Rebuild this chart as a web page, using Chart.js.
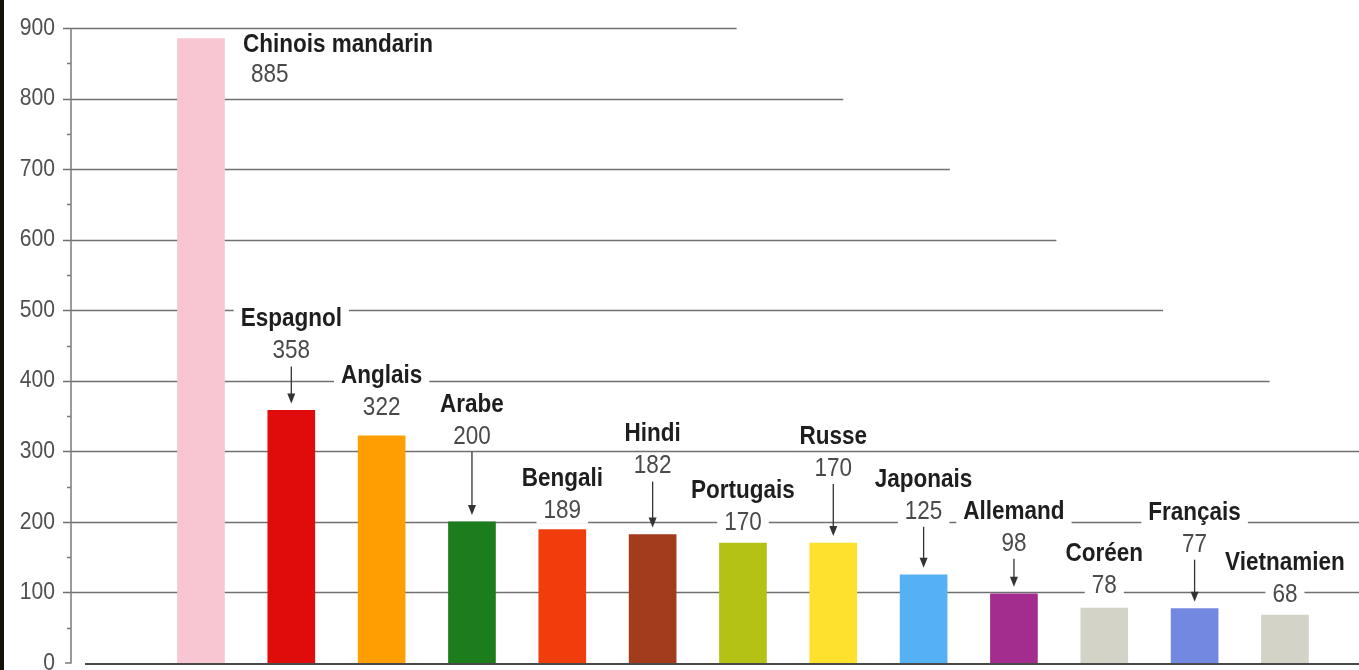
<!DOCTYPE html>
<html>
<head>
<meta charset="utf-8">
<script src="https://cdn.jsdelivr.net/npm/chart.js@4/dist/chart.umd.min.js"></script>
<style>
  html, body { margin: 0; padding: 0; background: #fff; overflow: hidden; }
  #wrap { width: 1359px; height: 670px; position: relative; }
</style>
</head>
<body>
<div id="wrap"><canvas id="myChart"></canvas></div>
<script>
"use strict";

// data (millions de locuteurs)
const languages = ["Chinois mandarin", "Espagnol", "Anglais", "Arabe", "Bengali", "Hindi", "Portugais",
                   "Russe", "Japonais", "Allemand", "Coréen", "Français", "Vietnamien"];
const speakers = [885, 358, 322, 200, 189, 182, 170, 170, 125, 98, 78, 77, 68];
const yTickValues = [0, 100, 200, 300, 400, 500, 600, 700, 800, 900];

// styling
const barColors = ["#f8c6d2", "#e00b0b", "#ff9e00", "#1c7d1c", "#f13d0b", "#a33b1d", "#b4c216",
                   "#fde12c", "#56b0f4", "#a32d8f", "#d4d3c7", "#7388e0", "#d4d3c7"];
// how far (px) the name label sits above the top of each bar
const labelLift = [0, 91, 60, 117, 51, 100, 52, 106, 95, 82, 54, 96, 52];

const sans = "'Liberation Sans', Arial, sans-serif";
const squeeze = 0.9; // condensed look of the printed font

// draws text squeezed horizontally, returns the drawn width
function drawText(ctx, text, x, y, font, color, align, sx) {
    ctx.save();
    ctx.font = font;
    ctx.fillStyle = color;
    ctx.textAlign = align;
    ctx.textBaseline = "middle";
    ctx.translate(x, y);
    ctx.scale(sx, 1);
    ctx.fillText(text, 0, 0);
    ctx.restore();
}

function textWidth(ctx, text, font, sx) {
    ctx.save();
    ctx.font = font;
    const w = ctx.measureText(text).width * sx;
    ctx.restore();
    return w;
}

const decoPlugin = {
    id: "deco",
    beforeDraw(chart) {
        const ctx = chart.ctx;
        ctx.save();
        ctx.fillStyle = "#15100a";
        ctx.fillRect(0, 0, 4, chart.height);
        ctx.restore();
    },
    beforeDatasetsDraw(chart) {
        const ctx = chart.ctx;
        const ys = chart.scales.y;
        const xs = chart.scales.x;
        const axisX = chart.chartArea.left + 1;
        ctx.save();
        // staggered grid lines
        ctx.strokeStyle = "#707070";
        ctx.lineWidth = 1.5;
        yTickValues.forEach(v => {
            if (v === 0) return;
            const y = Math.round(ys.getPixelForValue(v)) + 0.5;
            let end = chart.width;
            if (v >= 400) {
                end = xs.getPixelForValue(6.93 + (900 - v) / 100 * 1.18);
            }
            ctx.beginPath();
            ctx.moveTo(axisX - 8, y);
            ctx.lineTo(end, y);
            ctx.stroke();
        });
        // vertical axis
        ctx.strokeStyle = "#7a7a85";
        ctx.lineWidth = 1.5;
        ctx.beginPath();
        ctx.moveTo(axisX, ys.getPixelForValue(900));
        ctx.lineTo(axisX, ys.getPixelForValue(0));
        ctx.lineTo(axisX - 6, ys.getPixelForValue(0));
        ctx.stroke();
        // minor ticks
        for (let v = 50; v < 900; v += 100) {
            const y = Math.round(ys.getPixelForValue(v)) + 0.5;
            ctx.beginPath();
            ctx.moveTo(axisX - 4, y);
            ctx.lineTo(axisX, y);
            ctx.stroke();
        }
        // tick labels
        yTickValues.forEach(v => {
            drawText(ctx, String(v), axisX - 16, ys.getPixelForValue(v), "24px " + sans, "#505050", "right", 0.88);
        });
        ctx.restore();
    },
    afterDatasetsDraw(chart) {
        const ctx = chart.ctx;
        const ys = chart.scales.y;
        const meta = chart.getDatasetMeta(0);
        ctx.save();
        // baseline
        ctx.strokeStyle = "#4a4a4a";
        ctx.lineWidth = 2;
        ctx.beginPath();
        ctx.moveTo(85, ys.getPixelForValue(0) + 1);
        ctx.lineTo(chart.width, ys.getPixelForValue(0) + 1);
        ctx.stroke();

        const nameFont = "bold 25px " + sans;
        const valueFont = "25px " + sans;
        const items = [];
        meta.data.forEach((bar, i) => {
            const top = bar.y;
            if (i === 0) {
                items.push({ text: languages[i], x: bar.x + 42, y: top + 7, font: nameFont, color: "#1e1e1e", align: "left" });
                items.push({ text: String(speakers[i]), x: bar.x + 50, y: top + 37, font: valueFont, color: "#4a4a4a", align: "left" });
                return;
            }
            const nameY = top - labelLift[i];
            const valueY = nameY + 32;
            items.push({ text: languages[i], x: bar.x, y: nameY, font: nameFont, color: "#1e1e1e", align: "center" });
            items.push({ text: String(speakers[i]), x: bar.x, y: valueY, font: valueFont, color: "#4a4a4a", align: "center" });
            if (labelLift[i] >= 80) {
                items.push({ arrow: true, x: bar.x, y0: valueY + 15, y1: top - 7 });
            }
        });
        // white boxes behind labels (cut the grid lines)
        items.forEach(it => {
            if (it.arrow) return;
            const w = textWidth(ctx, it.text, it.font, squeeze);
            const x0 = it.align === "left" ? it.x - 6 : it.x - w / 2 - 7;
            ctx.fillStyle = "#fff";
            ctx.fillRect(x0, it.y - 13, w + 14, 26);
        });
        items.forEach(it => {
            if (it.arrow) {
                ctx.strokeStyle = "#333";
                ctx.lineWidth = 1.3;
                ctx.beginPath();
                ctx.moveTo(it.x, it.y0);
                ctx.lineTo(it.x, it.y1 - 6);
                ctx.stroke();
                ctx.fillStyle = "#333";
                ctx.beginPath();
                ctx.moveTo(it.x - 4, it.y1 - 10);
                ctx.lineTo(it.x + 4, it.y1 - 10);
                ctx.lineTo(it.x, it.y1);
                ctx.closePath();
                ctx.fill();
                return;
            }
            drawText(ctx, it.text, it.x, it.y, it.font, it.color, it.align, squeeze);
        });
        ctx.restore();
    }
};

const config = {
    type: "bar",
    data: {
        datasets: [{
            data: languages.map((l, i) => ({ x: i + 1, y: speakers[i] })),
            backgroundColor: barColors,
            borderWidth: 0,
            barThickness: 47,
        }],
    },
    options: {
        responsive: true,
        maintainAspectRatio: false,
        animation: false,
        layout: { padding: { top: 28, bottom: 7, left: 0, right: 0 } },
        plugins: {
            legend: { display: false },
            tooltip: { enabled: false },
        },
        scales: {
            x: {
                type: "linear",
                min: -0.45,
                max: 13.82,
                offset: false,
                display: false,
            },
            y: {
                min: 0,
                max: 900,
                ticks: { display: false, stepSize: 100 },
                grid: { display: false },
                border: { display: false },
                afterFit(scale) {
                    scale.width = 70;
                    scale.paddingTop = 0;
                    scale.paddingBottom = 0;
                },
            },
        },
    },
    plugins: [decoPlugin],
};

new Chart(document.getElementById("myChart").getContext("2d"), config);
</script>
</body>
</html>
